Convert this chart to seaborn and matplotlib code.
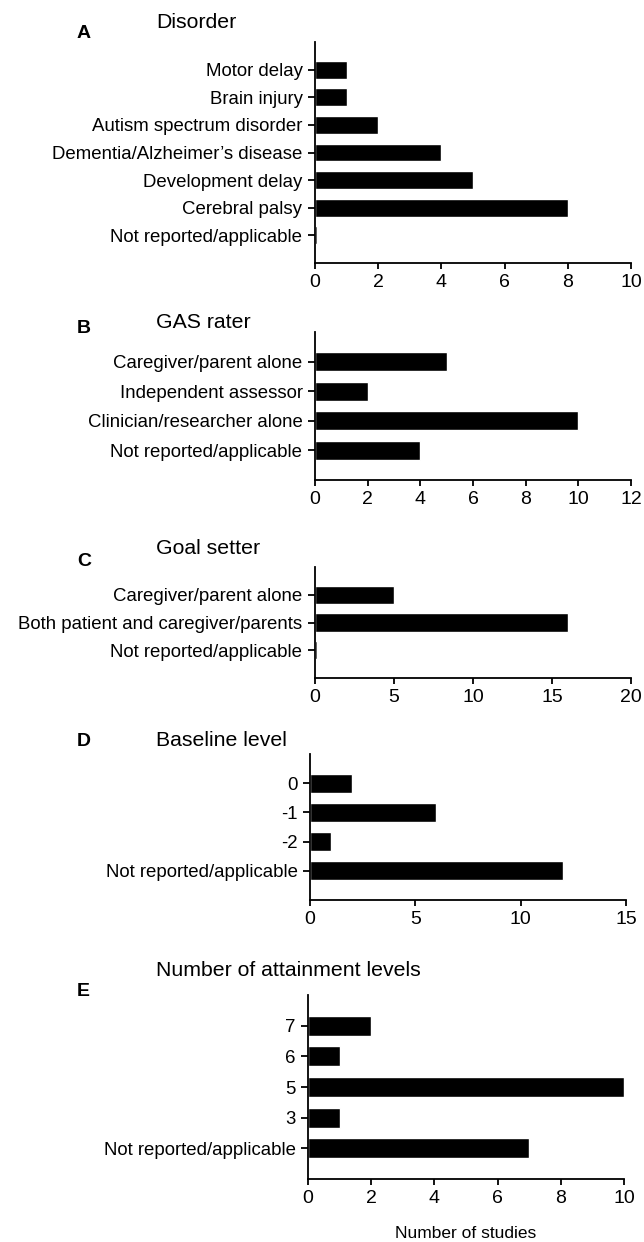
import numpy as np
import pandas as pd
import matplotlib
matplotlib.use("Agg")
import matplotlib.pyplot as plt
import seaborn as sns

# panel data
disorder_labels = ["Motor delay", "Brain injury", "Autism spectrum disorder",
                   "Dementia/Alzheimer\u2019s disease", "Development delay",
                   "Cerebral palsy", "Not reported/applicable"]
disorder_counts = [1, 1, 2, 4, 5, 8, 0.05]

rater_labels = ["Caregiver/parent alone", "Independent assessor",
                "Clinician/researcher alone", "Not reported/applicable"]
rater_counts = [5, 2, 10, 4]

setter_labels = ["Caregiver/parent alone", "Both patient and caregiver/parents",
                 "Not reported/applicable"]
setter_counts = [5, 16, 0.15]

baseline_labels = ["0", "-1", "-2", "Not reported/applicable"]
baseline_counts = [2, 6, 1, 12]

levels_labels = ["7", "6", "5", "3", "Not reported/applicable"]
levels_counts = [2, 1, 10, 1, 7]

sns.set_style("ticks")
plt.rcParams["font.family"] = ["Liberation Sans", "DejaVu Sans"]
plt.rcParams["text.color"] = "black"

W, H = 644, 1242
fig = plt.figure(figsize=(W / 100, H / 100), dpi=100)


def px_axes(l, t, r, b):
    return fig.add_axes([l / W, 1 - b / H, (r - l) / W, (b - t) / H])


panels = [
    ("A", "Disorder", disorder_labels, disorder_counts, 10, 2,
     (315, 42, 631, 263), 22, 33),
    ("B", "GAS rater", rater_labels, rater_counts, 12, 2,
     (315, 332, 631, 480), 323, 328),
    ("C", "Goal setter", setter_labels, setter_counts, 20, 5,
     (315, 567, 631, 678), 549, 562),
    ("D", "Baseline level", baseline_labels, baseline_counts, 15, 5,
     (310, 754, 626, 900), 741, 742),
    ("E", "Number of attainment levels", levels_labels, levels_counts, 10, 2,
     (308, 995, 624, 1179), 970, 992),
]

for letter, title, labels, counts, xmax, step, box, ty, ly in panels:
    ax = px_axes(*box)
    df = pd.DataFrame({"label": labels, "count": counts})
    sns.barplot(data=df, x="count", y="label", orient="h", color="black",
                width=0.65, ax=ax, saturation=1)
    ax.set_xlim(0, xmax)
    ax.set_ylim(len(labels), -1)
    ax.set_xticks(np.arange(0, xmax + 1, step))
    ax.set_xlabel("")
    ax.set_ylabel("")
    sns.despine(ax=ax)
    for s in ["left", "bottom"]:
        ax.spines[s].set_linewidth(1.3)
        ax.spines[s].set_color("black")
    ax.tick_params(axis="y", length=5, width=1.3, pad=4, labelsize=13.4, colors="black")
    ax.tick_params(axis="x", length=4, width=1.3, pad=4, labelsize=14, colors="black")
    fig.text(156 / W, 1 - ty / H, title, fontsize=15.3, va="center", ha="left")
    fig.text(77 / W, 1 - ly / H, letter, fontsize=14, fontweight="bold",
             va="center", ha="left")

fig.text(466 / W, 1 - 1233 / H, "Number of studies", fontsize=12.5,
         ha="center", va="center")

fig.savefig("out.png", dpi=100)
